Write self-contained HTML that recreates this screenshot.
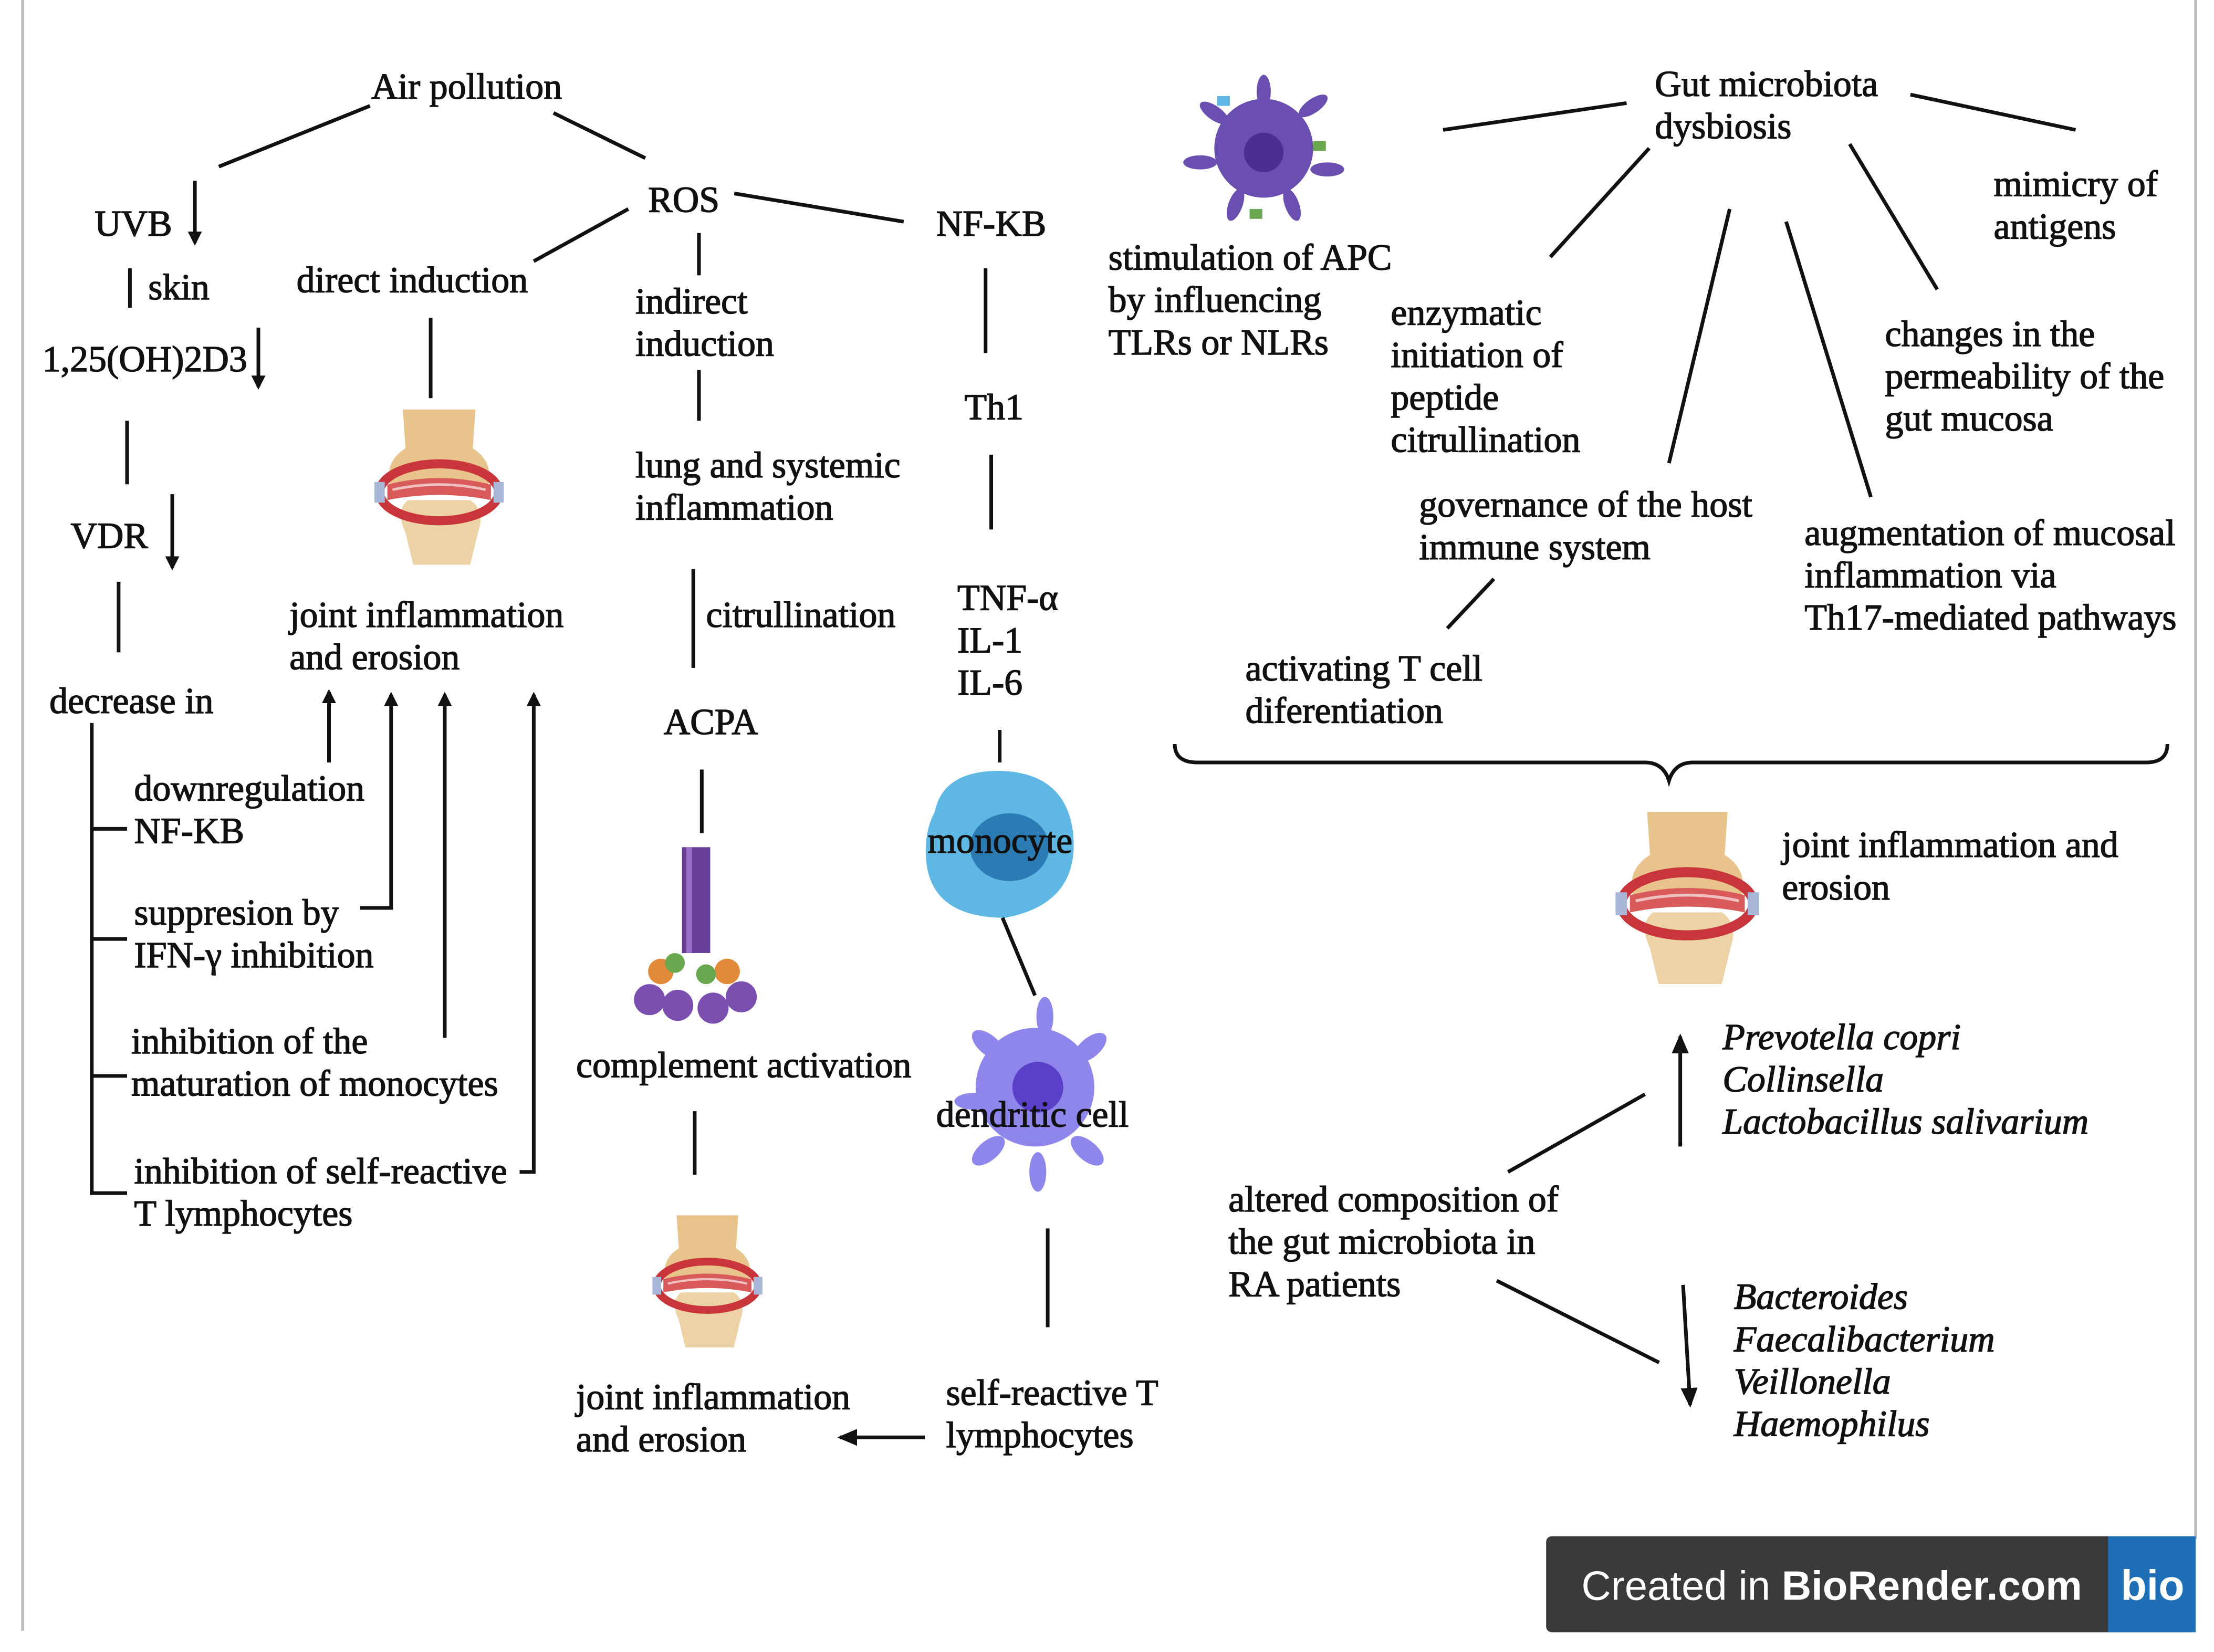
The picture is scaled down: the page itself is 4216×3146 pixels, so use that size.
<!DOCTYPE html>
<html><head><meta charset="utf-8"><style>
html,body{margin:0;padding:0;background:#fff;}
svg{display:block;}
text{font-family:"Liberation Serif",serif;font-size:26px;fill:#111;stroke:#111;stroke-width:0.55px;}
.i{font-style:italic;}
.l{stroke:#111;stroke-width:2.6;fill:none;}
</style></head><body>
<svg width="4216" height="3146" viewBox="0 0 1568 1170" preserveAspectRatio="none" xmlns="http://www.w3.org/2000/svg">
<defs>
<marker id="a" markerWidth="10" markerHeight="10" refX="8" refY="5" orient="auto" markerUnits="userSpaceOnUse" viewBox="0 0 10 10"><path d="M0,0 L10,5 L0,10 z" fill="#111"/></marker>
<marker id="b" markerWidth="14" markerHeight="14" refX="12" refY="7" orient="auto" markerUnits="userSpaceOnUse" viewBox="0 0 14 14"><path d="M0,1 L14,7 L0,13 z" fill="#111"/></marker>
<symbol id="joint" viewBox="0 0 100 120">
<path d="M22,0 L78,0 L76,30 Q92,40 88,58 L12,58 Q8,40 24,30 z" fill="#e8c48c"/>
<path d="M26,70 L74,70 Q86,78 80,95 L74,120 L30,120 L24,95 Q16,78 26,70z" fill="#ecd2a4"/>
<ellipse cx="50" cy="64" rx="46" ry="22" fill="none" stroke="#c8363c" stroke-width="7"/>
<path d="M10,58 Q50,48 90,58 L90,70 Q50,62 10,70z" fill="#d85a5a"/>
<path d="M14,62 Q50,54 86,62" stroke="#f0c0c0" stroke-width="2" fill="none"/>
<rect x="0" y="56" width="8" height="16" fill="#a9b7d8"/><rect x="92" y="56" width="8" height="16" fill="#a9b7d8"/>
</symbol>
</defs>
<rect width="1568" height="1170" fill="#fff"/>
<line x1="16" y1="0" x2="16" y2="1155" stroke="#bbb" stroke-width="2"/>
<line x1="1555" y1="0" x2="1555" y2="1090" stroke="#bbb" stroke-width="2"/>

<text x="263" y="70">Air pollution</text>
<line class="l" x1="155" y1="118" x2="262" y2="75"/>
<line class="l" x1="392" y1="80" x2="457" y2="112"/>
<text x="67" y="167">UVB</text>
<line class="l" x1="138" y1="128" x2="138" y2="172" marker-end="url(#a)"/>
<line class="l" x1="92" y1="190" x2="92" y2="218"/>
<text x="105" y="212">skin</text>
<text x="30" y="263">1,25(OH)2D3</text>
<line class="l" x1="183" y1="232" x2="183" y2="274" marker-end="url(#a)"/>
<line class="l" x1="90" y1="298" x2="90" y2="343"/>
<text x="50" y="388">VDR</text>
<line class="l" x1="122" y1="350" x2="122" y2="402" marker-end="url(#a)"/>
<line class="l" x1="84" y1="412" x2="84" y2="462"/>
<text x="35" y="505">decrease in</text>
<path class="l" d="M65,512 V845 H90 M65,587 H90 M65,665 H90 M65,762 H90"/>
<text x="95" y="567">downregulation</text><text x="95" y="597">NF-KB</text>
<text x="95" y="655">suppresion by</text><text x="95" y="685">IFN-γ inhibition</text>
<text x="93" y="746">inhibition of the</text><text x="93" y="776">maturation of monocytes</text>
<text x="95" y="838">inhibition of self-reactive</text><text x="95" y="868">T lymphocytes</text>
<line class="l" x1="233" y1="540" x2="233" y2="490" marker-end="url(#a)"/>
<path class="l" d="M255,643 H277 V492" marker-end="url(#a)"/>
<line class="l" x1="315" y1="735" x2="315" y2="492" marker-end="url(#a)"/>
<path class="l" d="M368,830 H378 V492" marker-end="url(#a)"/>
<text x="205" y="444">joint inflammation</text><text x="205" y="474">and erosion</text>
<text x="210" y="207">direct induction</text>
<line class="l" x1="305" y1="225" x2="305" y2="282"/>
<line class="l" x1="378" y1="185" x2="445" y2="148"/>
<use href="#joint" x="265" y="290" width="92" height="110"/>

<text x="459" y="150">ROS</text>
<line class="l" x1="520" y1="137" x2="640" y2="157"/>
<text x="663" y="167">NF-KB</text>
<line class="l" x1="495" y1="165" x2="495" y2="195"/>
<text x="450" y="222">indirect</text><text x="450" y="252">induction</text>
<line class="l" x1="495" y1="262" x2="495" y2="298"/>
<text x="450" y="338">lung and systemic</text><text x="450" y="368">inflammation</text>
<line class="l" x1="491" y1="403" x2="491" y2="473"/>
<text x="500" y="444">citrullination</text>
<text x="470" y="520">ACPA</text>
<line class="l" x1="497" y1="545" x2="497" y2="590"/>
<g>
<rect x="483" y="600" width="20" height="75" fill="#6a3f9a"/>
<rect x="486" y="600" width="4" height="75" fill="#9a6fc8"/>
<circle cx="460" cy="708" r="11" fill="#7a4fb0"/><circle cx="480" cy="712" r="11" fill="#7a4fb0"/>
<circle cx="505" cy="714" r="11" fill="#7a4fb0"/><circle cx="525" cy="706" r="11" fill="#7a4fb0"/>
<circle cx="468" cy="688" r="9" fill="#e08a3a"/><circle cx="515" cy="688" r="9" fill="#e08a3a"/>
<circle cx="478" cy="682" r="7" fill="#6aa84f"/><circle cx="500" cy="690" r="7" fill="#6aa84f"/>
</g>
<text x="408" y="763">complement activation</text>
<line class="l" x1="492" y1="787" x2="492" y2="832"/>
<use href="#joint" x="462" y="855" width="78" height="105"/>
<text x="408" y="998">joint inflammation</text><text x="408" y="1028">and erosion</text>
<line class="l" x1="655" y1="1018" x2="595" y2="1018" marker-end="url(#b)"/>
<text x="670" y="995">self-reactive T</text><text x="670" y="1025">lymphocytes</text>
<line class="l" x1="742" y1="870" x2="742" y2="940"/>
<line class="l" x1="698" y1="190" x2="698" y2="250"/>
<text x="683" y="297">Th1</text>
<line class="l" x1="702" y1="322" x2="702" y2="375"/>
<text x="678" y="432">TNF-α</text><text x="678" y="462">IL-1</text><text x="678" y="492">IL-6</text>
<line class="l" x1="708" y1="517" x2="708" y2="540"/>
<path d="M662,575 Q668,545 710,546 Q755,548 760,590 Q765,640 712,650 Q660,650 656,610 Q654,590 662,575z" fill="#5fb8e3"/>
<ellipse cx="715" cy="600" rx="28" ry="24" fill="#2b7cb5"/>
<text x="657" y="604">monocyte</text>
<line class="l" x1="710" y1="650" x2="733" y2="705"/>
<g fill="#8f86ec">
<circle cx="733" cy="770" r="42"/>
<ellipse cx="700" cy="740" rx="14" ry="7" transform="rotate(40 700 740)"/>
<ellipse cx="740" cy="720" rx="6" ry="14"/>
<ellipse cx="772" cy="742" rx="14" ry="7" transform="rotate(-40 772 742)"/>
<ellipse cx="690" cy="780" rx="14" ry="6"/>
<ellipse cx="700" cy="815" rx="14" ry="7" transform="rotate(-40 700 815)"/>
<ellipse cx="735" cy="830" rx="6" ry="14"/>
<ellipse cx="770" cy="815" rx="14" ry="7" transform="rotate(40 770 815)"/>
</g>
<circle cx="735" cy="770" r="18" fill="#5a3fc8"/>
<text x="663" y="798">dendritic cell</text>

<g fill="#6a4fb0">
<circle cx="895" cy="105" r="35"/>
<ellipse cx="860" cy="80" rx="12" ry="5" transform="rotate(35 860 80)"/>
<ellipse cx="930" cy="75" rx="12" ry="5" transform="rotate(-35 930 75)"/>
<ellipse cx="850" cy="115" rx="12" ry="5"/>
<ellipse cx="940" cy="120" rx="12" ry="5"/>
<ellipse cx="875" cy="145" rx="5" ry="12" transform="rotate(20 875 145)"/>
<ellipse cx="915" cy="145" rx="5" ry="12" transform="rotate(-20 915 145)"/>
<ellipse cx="895" cy="65" rx="5" ry="12"/>
</g>
<circle cx="895" cy="108" r="14" fill="#4a2f90"/>
<rect x="862" y="68" width="9" height="7" fill="#5fb8e3"/><rect x="930" y="100" width="9" height="7" fill="#6aa84f"/><rect x="885" y="148" width="9" height="7" fill="#6aa84f"/>
<line class="l" x1="1022" y1="92" x2="1152" y2="73"/>
<text x="1172" y="68">Gut microbiota</text><text x="1172" y="98">dysbiosis</text>
<line class="l" x1="1353" y1="67" x2="1470" y2="92"/>
<text x="1412" y="139">mimicry of</text><text x="1412" y="169">antigens</text>
<text x="785" y="191">stimulation of APC</text><text x="785" y="221">by influencing</text><text x="785" y="251">TLRs or NLRs</text>
<line class="l" x1="1168" y1="105" x2="1098" y2="182"/>
<text x="985" y="230">enzymatic</text><text x="985" y="260">initiation of</text><text x="985" y="290">peptide</text><text x="985" y="320">citrullination</text>
<line class="l" x1="1225" y1="148" x2="1182" y2="328"/>
<text x="1005" y="366">governance of the host</text><text x="1005" y="396">immune system</text>
<line class="l" x1="1058" y1="410" x2="1025" y2="445"/>
<text x="882" y="482">activating T cell</text><text x="882" y="512">diferentiation</text>
<line class="l" x1="1265" y1="157" x2="1325" y2="352"/>
<text x="1278" y="386">augmentation of mucosal</text><text x="1278" y="416">inflammation via</text><text x="1278" y="446">Th17-mediated pathways</text>
<line class="l" x1="1310" y1="102" x2="1372" y2="205"/>
<text x="1335" y="245">changes in the</text><text x="1335" y="275">permeability of the</text><text x="1335" y="305">gut mucosa</text>
<path class="l" d="M832,527 Q832,540 848,540 H1165 Q1178,540 1182,553 Q1186,540 1199,540 H1520 Q1535,540 1535,527"/>
<use href="#joint" x="1143" y="575" width="104" height="122"/>
<text x="1262" y="607">joint inflammation and</text><text x="1262" y="637">erosion</text>
<line class="l" x1="1190" y1="812" x2="1190" y2="734" marker-end="url(#b)"/>
<text class="i" x="1220" y="743">Prevotella copri</text><text class="i" x="1220" y="773">Collinsella</text><text class="i" x="1220" y="803">Lactobacillus salivarium</text>
<line class="l" x1="1068" y1="830" x2="1165" y2="775"/>
<text x="870" y="858">altered composition of</text><text x="870" y="888">the gut microbiota in</text><text x="870" y="918">RA patients</text>
<line class="l" x1="1060" y1="907" x2="1175" y2="965"/>
<line class="l" x1="1192" y1="910" x2="1197" y2="995" marker-end="url(#b)"/>
<text class="i" x="1228" y="927">Bacteroides</text><text class="i" x="1228" y="957">Faecalibacterium</text><text class="i" x="1228" y="987">Veillonella</text><text class="i" x="1228" y="1017">Haemophilus</text>

<rect x="1095" y="1088" width="460" height="68" rx="4" fill="#3a3a3a"/>
<rect x="1493" y="1088" width="62" height="68" fill="#1f6fb6"/>
<text x="1120" y="1133" style="font-family:'Liberation Sans',sans-serif;font-size:29px;fill:#fff;stroke:none;">Created in <tspan font-weight="bold">BioRender.com</tspan></text>
<text x="1502" y="1133" style="font-family:'Liberation Sans',sans-serif;font-size:30px;font-weight:bold;fill:#fff;stroke:none;">bio</text>
</svg>
</body></html>
